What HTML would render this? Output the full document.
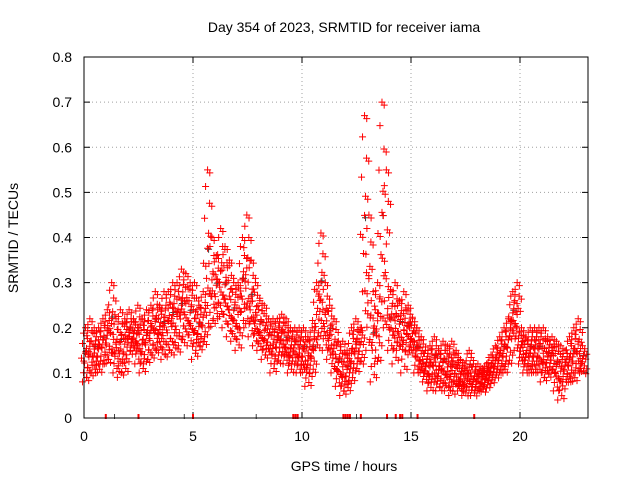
<!DOCTYPE html>
<html><head><meta charset="utf-8"><style>
body{margin:0;background:#fff;}
svg{display:block;font-family:"Liberation Sans",sans-serif;}
</style></head><body>
<svg id="chart" width="640" height="480" viewBox="0 0 640 480">
<text x="344" y="32" font-size="14" text-anchor="middle">Day 354 of 2023, SRMTID for receiver iama</text>
<text x="344" y="471" font-size="14" text-anchor="middle">GPS time / hours</text>
<text transform="translate(18,238) rotate(-90)" font-size="14" text-anchor="middle">SRMTID / TECUs</text>
<g id="grid"></g>
<g id="ticks"></g>
<g id="black"></g>
<g id="red"></g>
<rect x="84" y="57" width="504" height="361" fill="none" stroke="#000" stroke-width="1"/>
</svg>
<script>
const xTicks=[0,5,10,15,20];
const yTicks=[0,0.1,0.2,0.3,0.4,0.5,0.6,0.7,0.8];
const yTickLabels=["0","0.1","0.2","0.3","0.4","0.5","0.6","0.7","0.8"];
const times=[0,0.2,0.4,0.6,0.8,1.0,1.2,1.4,1.6,1.8,2.0,2.2,2.4,2.6,2.8,3.0,3.2,3.4,3.6,3.8,4.0,4.2,4.4,4.6,4.8,5.0,5.2,5.4,5.6,5.8,6.0,6.2,6.4,6.6,6.8,7.0,7.2,7.4,7.6,7.8,8.0,8.2,8.4,8.6,8.8,9.0,9.2,9.4,9.6,9.8,10.0,10.2,10.4,10.6,10.8,11.0,11.2,11.4,11.6,11.8,12.0,12.2,12.4,12.6,12.8,13.0,13.2,13.4,13.6,13.8,14.0,14.2,14.4,14.6,14.8,15.0,15.2,15.4,15.6,15.8,16.0,16.2,16.4,16.6,16.8,17.0,17.2,17.4,17.6,17.8,18.0,18.2,18.4,18.6,18.8,19.0,19.2,19.4,19.6,19.8,20.0,20.2,20.4,20.6,20.8,21.0,21.2,21.4,21.6,21.8,22.0,22.2,22.4,22.6,22.8];
const lowVals=[0.08,0.09,0.1,0.1,0.12,0.12,0.13,0.1,0.09,0.1,0.14,0.15,0.12,0.1,0.12,0.13,0.14,0.15,0.13,0.14,0.15,0.14,0.16,0.18,0.16,0.13,0.15,0.16,0.18,0.2,0.22,0.22,0.2,0.18,0.17,0.15,0.2,0.2,0.18,0.16,0.15,0.13,0.14,0.1,0.12,0.14,0.12,0.1,0.12,0.1,0.1,0.07,0.1,0.15,0.18,0.15,0.13,0.1,0.07,0.05,0.06,0.08,0.1,0.12,0.2,0.15,0.08,0.12,0.18,0.2,0.15,0.12,0.15,0.1,0.15,0.15,0.1,0.1,0.08,0.06,0.08,0.06,0.07,0.06,0.05,0.07,0.06,0.05,0.07,0.05,0.06,0.06,0.07,0.08,0.09,0.1,0.1,0.12,0.18,0.15,0.12,0.1,0.1,0.1,0.1,0.08,0.09,0.1,0.06,0.04,0.08,0.08,0.08,0.1,0.1];
const highVals=[0.2,0.22,0.2,0.2,0.22,0.24,0.3,0.22,0.24,0.22,0.24,0.22,0.25,0.22,0.24,0.25,0.28,0.25,0.28,0.28,0.3,0.3,0.33,0.32,0.3,0.3,0.25,0.28,0.55,0.4,0.36,0.42,0.38,0.35,0.3,0.3,0.4,0.45,0.35,0.3,0.26,0.25,0.22,0.22,0.22,0.23,0.22,0.2,0.2,0.2,0.2,0.18,0.2,0.3,0.41,0.3,0.25,0.22,0.17,0.17,0.15,0.2,0.22,0.2,0.67,0.45,0.28,0.3,0.7,0.55,0.28,0.3,0.26,0.28,0.25,0.22,0.2,0.18,0.15,0.16,0.18,0.15,0.17,0.16,0.17,0.15,0.13,0.12,0.15,0.12,0.12,0.11,0.12,0.14,0.16,0.18,0.2,0.22,0.28,0.3,0.2,0.18,0.2,0.2,0.2,0.2,0.18,0.18,0.17,0.16,0.15,0.18,0.2,0.22,0.16];
const zeroRed=[1.0,2.5,5.0,9.6,9.7,9.8,11.9,12.0,12.1,12.2,12.7,13.9,14.3,14.5,14.6,15.3,17.9];
const zeroBlack=[1.4,4.6,7.9,12.5];

const NS="http://www.w3.org/2000/svg";
const X0=84,X1=588,Y0=418,Y1=57;
const xs=t=>X0+t*21.8;
const ys=v=>Y0+(v/0.8)*(Y1-Y0);
function mk(tag,attrs,parent){const e=document.createElementNS(NS,tag);for(const k in attrs)e.setAttribute(k,attrs[k]);parent.appendChild(e);return e;}
const grid=document.getElementById('grid'),ticks=document.getElementById('ticks');
xTicks.forEach(t=>{
  const x=xs(t);
  if(t>0){const g=mk('line',{x1:x,x2:x,y1:Y0,y2:Y1,stroke:'#a0a0a0','stroke-dasharray':'1,3'},grid);
  
  }
  mk('line',{x1:x,x2:x,y1:Y0,y2:Y0-6,stroke:'#000'},ticks);
  mk('line',{x1:x,x2:x,y1:Y1,y2:Y1+6,stroke:'#000'},ticks);
  const l=mk('text',{x:x,y:Y0+23,'font-size':14,'text-anchor':'middle'},ticks);
  l.textContent=t;
  
  
});
yTicks.forEach((v,i)=>{
  const y=ys(v);
  if(i>0&&i<yTicks.length-1){const g=mk('line',{x1:X0,x2:X1,y1:y,y2:y,stroke:'#a0a0a0','stroke-dasharray':'1,3'},grid);
  
  }
  mk('line',{x1:X0,x2:X0+6,y1:y,y2:y,stroke:'#000'},ticks);
  mk('line',{x1:X1,x2:X1-6,y1:y,y2:y,stroke:'#000'},ticks);
  const l=mk('text',{x:X0-12,y:y+5,'font-size':14,'text-anchor':'end'},ticks);
  l.textContent=yTickLabels[i];
  
  
});
function plus(g,x,y,c){
  const p=mk('path',{d:`M${x-3},${y}h7M${x+0.5},${y-3.5}v7`,stroke:c,'stroke-width':1,fill:'none'},g);
  
  
}
const red=document.getElementById('red'),black=document.getElementById('black');
const fr=[0,0.08,0.17,0.26,0.35,0.44,0.53,0.62,0.71,0.8,0.9,1];
const dx=[-2,2,-1,3,0,-3,1,2,-2,3,-1,1];
times.forEach((t,i)=>{
  const lo=lowVals[i],hi=highVals[i];
  const x=xs(t);
  fr.forEach((f,j)=>{
    const v=lo+(hi-lo)*f;
    plus(red,x+dx[j],ys(v),'#ff0000');
    if(j%2==1) plus(red,x+dx[j]+2.2,ys(v)+3,'#ff0000');
  });
  if(i%2==0) plus(black,x+2,ys((lo+hi)/2)-4,'#404040');
});
zeroRed.forEach(t=>{const p=mk('line',{x1:xs(t),x2:xs(t),y1:Y0-4,y2:Y0+1,stroke:'#ff0000','stroke-width':2},red);

});
zeroBlack.forEach(t=>{const p=mk('line',{x1:xs(t),x2:xs(t),y1:Y0-4,y2:Y0+1,stroke:'#404040','stroke-width':1},black);

});
</script>
</body></html>
